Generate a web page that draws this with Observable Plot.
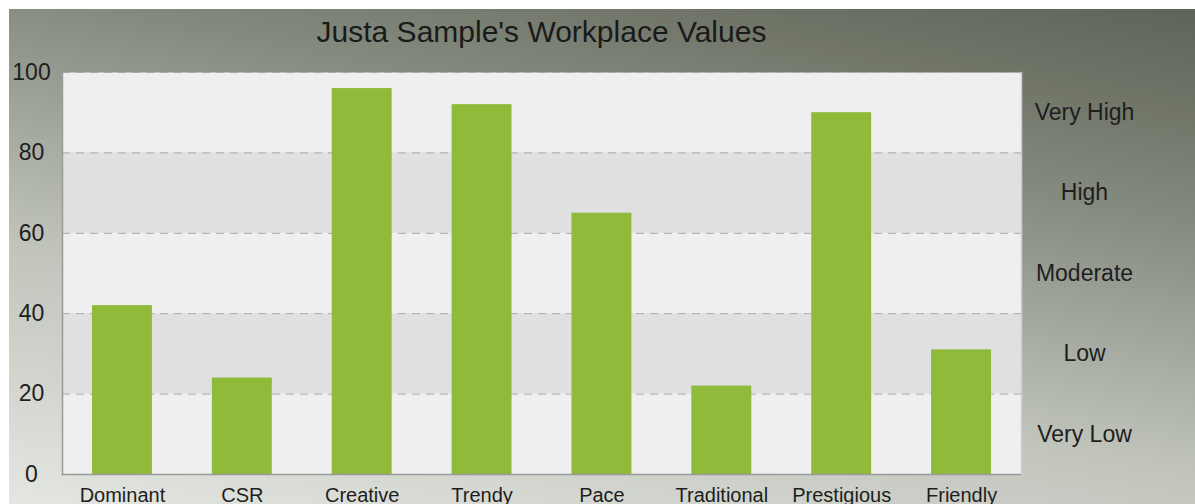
<!DOCTYPE html>
<html>
<head>
<meta charset="utf-8">
<script src="https://cdn.jsdelivr.net/npm/d3@7"></script>
<script src="https://cdn.jsdelivr.net/npm/@observablehq/plot@0.6"></script>
<style>
  html, body { margin: 0; padding: 0; background: #ffffff; }
  #wrap {
    position: absolute; left: 9px; top: 9px; width: 1186px; height: 495px; overflow: hidden;
    background: linear-gradient(191deg, #5f6459 0%, #717669 15%, #868b80 30%, #c0c4bb 64%, #e4e6e1 100%);
    font-family: "Liberation Sans", Arial, Helvetica, sans-serif;
  }
  #title {
    position: absolute; left: 53px; width: 959px; top: 8px; text-align: center;
    font-size: 30px; line-height: 30px; color: #1a1a1a;
  }
  #chart { position: absolute; left: 0; top: 0; }
  #chart svg { background: transparent !important; overflow: visible; }
</style>
</head>
<body>
<div id="wrap">
  <div id="chart"></div>
  <div id="title">Justa Sample's Workplace Values</div>
</div>
<script>
const categories = ["Dominant", "CSR", "Creative", "Trendy", "Pace", "Traditional", "Prestigious", "Friendly"];
const values = [42, 24, 96, 92, 65, 22, 90, 31];
const yTicks = [0, 20, 40, 60, 80, 100];
const bandLabels = ["Very Low", "Low", "Moderate", "High", "Very High"];
const bandEdges = [0, 20, 40, 60, 80, 100];
const gridLines = [20, 40, 60, 80, 100];

const data = categories.map((c, i) => ({category: c, value: values[i]}));
const bands = bandLabels.map((label, i) => ({label, lo: bandEdges[i], hi: bandEdges[i + 1], i}));

const chart = Plot.plot({
  width: 1186,
  height: 495,
  marginLeft: 53,
  marginRight: 174,
  marginTop: 63,
  marginBottom: 30,
  style: {background: "transparent", fontFamily: "'Liberation Sans', Arial, sans-serif", color: "#1e1e1e"},
  x: {domain: categories, paddingInner: 0.5, paddingOuter: 0.25, round: false, label: null},
  y: {domain: [0, 100], label: null},
  marks: [
    Plot.frame({fill: "#efefef", stroke: null}),
    Plot.rect(bands.filter(d => d.i % 2 === 1), {y1: "lo", y2: "hi", fill: "#e0e0e0"}),
    Plot.ruleY(gridLines, {stroke: "#a8a8a8", strokeDasharray: "8,6", strokeWidth: 1}),
    Plot.barY(data, {x: "category", y: "value", fill: "#8fba3a"}),
    Plot.frame({anchor: "left", stroke: "#9a9a9a", strokeWidth: 1.5}),
    Plot.frame({anchor: "right", stroke: "#cfcfcf", strokeWidth: 1.5}),
    Plot.ruleY([0], {stroke: "#9a9a9a", strokeWidth: 1.5}),
    Plot.axisY({ticks: yTicks, tickSize: 0, tickPadding: 31, textAnchor: "middle", fontSize: 23, label: null}),
    Plot.axisX({tickSize: 0, tickPadding: 13, fontSize: 20, label: null}),
    Plot.text(bands, {y: d => (d.lo + d.hi) / 2, text: "label", frameAnchor: "right", dx: 63, textAnchor: "middle", fontSize: 23, fill: "#1e1e1e"})
  ]
});
document.getElementById("chart").appendChild(chart);
</script>
</body>
</html>
